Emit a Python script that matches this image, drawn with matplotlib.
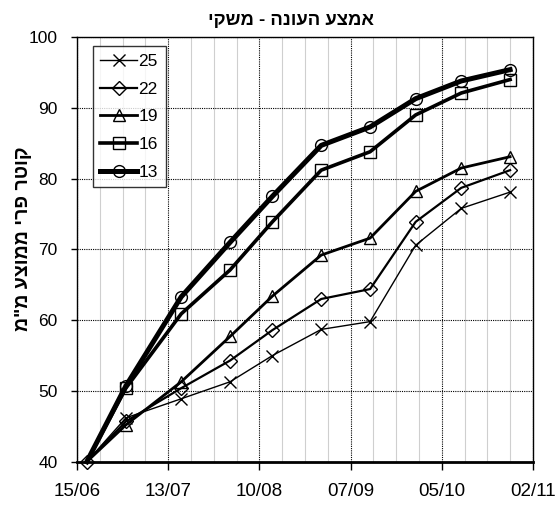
import numpy as np
import pandas as pd
import matplotlib
matplotlib.use("Agg")
import matplotlib.pyplot as plt
import matplotlib.dates as mdates

# ------------------------------------------------------------
# dados: diâmetro médio do fruto por data de amostragem
# ------------------------------------------------------------
datas = ["2008-06-18", "2008-06-30", "2008-07-17", "2008-08-01", "2008-08-14",
         "2008-08-29", "2008-09-13", "2008-09-27", "2008-10-11", "2008-10-26"]

serie_25 = [40, 46.2, 48.9, 51.3, 55.0, 58.7, 59.8, 70.6, 75.8, 78.1]
serie_22 = [40, 45.7, 50.4, 54.3, 58.6, 63.0, 64.4, 73.9, 78.7, 81.2]
serie_19 = [40, 45.2, 51.3, 57.7, 63.4, 69.2, 71.6, 78.2, 81.5, 83.1]
serie_16 = [40, 50.4, 60.9, 67.1, 73.9, 81.2, 83.8, 89.0, 92.1, 94.0]
serie_13 = [40, 50.7, 63.3, 71.0, 77.5, 84.7, 87.3, 91.3, 93.8, 95.4]

rotulos = ["25", "22", "19", "16", "13"]

titulo = "אמצע העונה - משקי"
rotulo_y = 'קוטר פרי ממוצע מ"מ'

x = pd.to_datetime(datas)

plt.rcParams['font.family'] = ['Liberation Sans', 'DejaVu Sans']

fig = plt.figure(figsize=(5.58, 5.08), dpi=100)
ax = fig.add_axes([0.138, 0.091, 0.817, 0.836])

estilos = [
    (serie_25, "x", 1.0, 9),
    (serie_22, "D", 1.6, 7),
    (serie_19, "^", 2.0, 9),
    (serie_16, "s", 2.6, 8.5),
    (serie_13, "o", 3.6, 8.5),
]

for (y, marcador, lw, ms), lab in zip(estilos, rotulos):
    # só a série 22 mostra o marcador no primeiro ponto
    me = None if marcador == "D" else list(range(1, len(y)))
    ax.plot(x, y, color="black", lw=lw, marker=marcador, markersize=ms,
            markerfacecolor="none", markeredgecolor="black", markeredgewidth=1.0,
            markevery=me, label=lab, clip_on=False, zorder=3)

inicio = pd.Timestamp("2008-06-15")
ax.set_xlim(inicio, pd.Timestamp("2008-11-02"))
ax.set_ylim(40, 100)

ax.set_xticks(pd.date_range(inicio, periods=6, freq="28D"))
ax.set_xticks(pd.date_range(inicio, periods=21, freq="7D"), minor=True)
ax.xaxis.set_major_formatter(mdates.DateFormatter("%d/%m"))
ax.set_yticks(np.arange(40, 101, 10))

ax.grid(axis="x", which="minor", color="#cfcfcf", lw=0.8, ls="-")
ax.grid(axis="x", which="major", color="black", lw=0.8, ls=(0, (1, 1)))
ax.grid(axis="y", which="major", color="black", lw=0.8, ls=(0, (1, 1)))
ax.set_axisbelow(True)

ax.tick_params(axis="x", which="major", direction="out", length=6, width=1,
               pad=9, labelsize=13.5)
ax.tick_params(axis="y", which="major", direction="out", length=4, width=1,
               pad=10, labelsize=12.5)
ax.tick_params(axis="x", which="minor", length=0)

for s in ["top", "right", "left"]:
    ax.spines[s].set_linewidth(1.0)
ax.spines["bottom"].set_linewidth(2.0)

# texto em hebraico invertido para a ordem visual
ax.set_title(titulo[::-1], fontsize=13.3, fontweight="bold", pad=9, x=0.47)
ax.set_ylabel(rotulo_y[::-1], fontsize=14, fontweight="bold")
ax.yaxis.set_label_coords(-0.098, 0.525)

leg = ax.legend(loc="upper left", fontsize=12.5, frameon=True, fancybox=False,
                edgecolor="black", handlelength=2.1, handletextpad=0.1,
                labelspacing=0.72, borderpad=0.45, borderaxespad=0,
                bbox_to_anchor=(0.034, 0.979))
leg.get_frame().set_linewidth(1.0)

fig.savefig("out.png", dpi=100)
